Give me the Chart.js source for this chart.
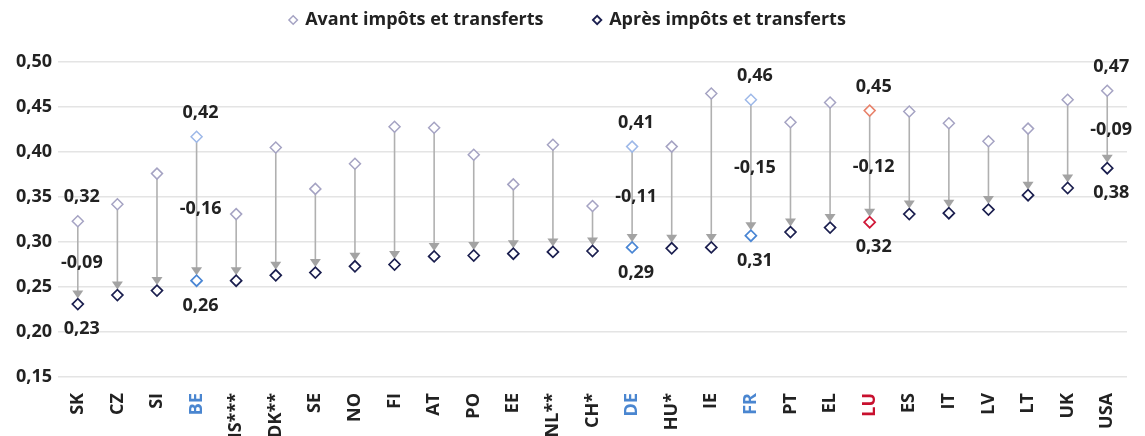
<!DOCTYPE html>
<html lang="fr">
<head>
<meta charset="utf-8">
<script src="https://cdn.jsdelivr.net/npm/chart.js@4/dist/chart.umd.min.js"></script>
<style>
  html, body { margin: 0; padding: 0; background: #ffffff; }
  #wrap { width: 1145px; height: 436px; position: relative; }
</style>
</head>
<body>
<div id="wrap"><canvas id="c"></canvas></div>
<script>
// ---- Data ----
const countries = ['SK','CZ','SI','BE','IS***','DK**','SE','NO','FI','AT','PO','EE','NL**','CH*','DE','HU*','IE','FR','PT','EL','LU','ES','IT','LV','LT','UK','USA'];
const avantImpots = [0.323,0.342,0.376,0.417,0.331,0.405,0.359,0.387,0.428,0.427,0.397,0.364,0.408,0.340,0.406,0.406,0.465,0.458,0.433,0.455,0.446,0.445,0.432,0.412,0.426,0.458,0.468];
const apresImpots = [0.231,0.241,0.246,0.257,0.257,0.263,0.266,0.273,0.275,0.284,0.285,0.287,0.289,0.290,0.294,0.293,0.294,0.307,0.311,0.316,0.322,0.331,0.332,0.336,0.352,0.360,0.382];
const seriesNames = ['Avant impôts et transferts', 'Après impôts et transferts'];
const labelledCountries = ['SK','BE','DE','FR','LU','USA'];
const neighbourCountries = ['BE','DE','FR'];
const homeCountry = 'LU';
const yTicks = { min: 0.15, max: 0.50, step: 0.05 };

// ---- Styles ----
const FONT = { family: '"Open Sans", "Noto Sans", sans-serif', size: 18, weight: 'bold' };
const TEXT = '#222222';
const COL_BEFORE = '#a5a3c3', COL_AFTER = '#1b1f4f';
const COL_NB_BEFORE = '#9db8e8', COL_NB_AFTER = '#4a86d4';
const COL_LU_BEFORE = '#e8826a', COL_LU_AFTER = '#d01838';
const fmt = v => v.toFixed(2).replace('.', ',');

function colorFor(i, normal, nb, lu) {
  const c = countries[i];
  if (c === homeCountry) return lu;
  if (neighbourCountries.includes(c)) return nb;
  return normal;
}

const arrowsPlugin = {
  id: 'arrows',
  beforeDatasetsDraw(chart) {
    const ctx = chart.ctx, xs = chart.scales.x, ys = chart.scales.y;
    ctx.save();
    countries.forEach((c, i) => {
      const x = xs.getPixelForValue(i);
      const y1 = ys.getPixelForValue(avantImpots[i]);
      const y2 = ys.getPixelForValue(apresImpots[i]);
      const tip = y2 - 5.5, head = 8, hw = 5.5;
      ctx.strokeStyle = '#b0b0b0';
      ctx.lineWidth = 1.6;
      ctx.beginPath();
      ctx.moveTo(x, y1 + 5);
      ctx.lineTo(x, tip - head + 1);
      ctx.stroke();
      ctx.fillStyle = '#a3a3a3';
      ctx.beginPath();
      ctx.moveTo(x - hw, tip - head);
      ctx.lineTo(x + hw, tip - head);
      ctx.lineTo(x, tip);
      ctx.closePath();
      ctx.fill();
    });
    ctx.restore();
  }
};

const labelsPlugin = {
  id: 'valueLabels',
  afterDatasetsDraw(chart) {
    const ctx = chart.ctx, xs = chart.scales.x, ys = chart.scales.y;
    ctx.save();
    ctx.font = `${FONT.weight} ${FONT.size}px ${FONT.family}`;
    ctx.fillStyle = TEXT;
    ctx.textAlign = 'center';
    ctx.textBaseline = 'middle';
    labelledCountries.forEach(c => {
      const i = countries.indexOf(c);
      const x = xs.getPixelForValue(i) + 4;
      const y1 = ys.getPixelForValue(avantImpots[i]);
      const y2 = ys.getPixelForValue(apresImpots[i]);
      ctx.fillText(fmt(avantImpots[i]), x, y1 - 24);
      ctx.fillText(fmt(apresImpots[i]), x, y2 + 25);
      ctx.fillText(fmt(apresImpots[i] - avantImpots[i]), x, (y1 + y2) / 2);
    });
    ctx.restore();
  }
};

const legendSpace = {
  id: 'legendSpace',
  beforeInit(chart) {
    const orig = chart.legend.fit;
    chart.legend.fit = function () {
      orig.bind(chart.legend)();
      this.height += 23;
    };
  }
};

new Chart(document.getElementById('c'), {
  type: 'line',
  data: {
    labels: countries,
    datasets: [
      {
        label: seriesNames[0],
        data: avantImpots,
        showLine: false,
        pointStyle: 'rectRot',
        pointRadius: 5.5,
        pointBorderWidth: 1.5,
        pointBackgroundColor: '#ffffff',
        pointBorderColor: countries.map((c, i) => colorFor(i, COL_BEFORE, COL_NB_BEFORE, COL_LU_BEFORE)),
        borderColor: COL_BEFORE,
        backgroundColor: '#ffffff'
      },
      {
        label: seriesNames[1],
        data: apresImpots,
        showLine: false,
        pointStyle: 'rectRot',
        pointRadius: 5.5,
        pointBorderWidth: 1.7,
        pointBackgroundColor: '#ffffff',
        pointBorderColor: countries.map((c, i) => colorFor(i, COL_AFTER, COL_NB_AFTER, COL_LU_AFTER)),
        borderColor: COL_AFTER,
        backgroundColor: '#ffffff'
      }
    ]
  },
  options: {
    responsive: true,
    maintainAspectRatio: false,
    animation: false,
    events: [],
    layout: { padding: { left: 0, right: 9, top: 0, bottom: 0 } },
    plugins: {
      tooltip: { enabled: false },
      legend: {
        display: true,
        position: 'top',
        align: 'center',
        labels: {
          usePointStyle: true,
          boxHeight: 6,
          boxWidth: 6,
          padding: 11,
          color: TEXT,
          font: FONT,
          generateLabels(chart) {
            const ds = chart.data.datasets;
            return [
              { text: ds[0].label, pointStyle: 'rectRot', strokeStyle: COL_BEFORE, fillStyle: '#ffffff', lineWidth: 1.5, fontColor: TEXT, datasetIndex: 0 },
              { text: '\u2002 ', pointStyle: 'rectRot', strokeStyle: 'rgba(0,0,0,0)', fillStyle: 'rgba(0,0,0,0)', lineWidth: 0, fontColor: TEXT },
              { text: ds[1].label, pointStyle: 'rectRot', strokeStyle: COL_AFTER, fillStyle: '#ffffff', lineWidth: 1.8, fontColor: TEXT, datasetIndex: 1 }
            ];
          }
        }
      }
    },
    scales: {
      x: {
        offset: true,
        grid: { display: false, drawTicks: false },
        border: { display: false },
        ticks: {
          autoSkip: false,
          minRotation: 90,
          maxRotation: 90,
          padding: 16,
          font: FONT,
          color: ctx => colorFor(ctx.index, TEXT, '#4a86d0', '#c8102e')
        },
        afterFit(scale) { scale.height = 59; }
      },
      y: {
        min: yTicks.min,
        max: yTicks.max,
        grid: { color: '#e4e4e4', lineWidth: 1.6, drawTicks: false },
        border: { display: false },
        ticks: {
          stepSize: yTicks.step,
          padding: 6,
          font: FONT,
          color: TEXT,
          callback: v => fmt(v)
        },
        afterFit(scale) { scale.width = 58; }
      }
    }
  },
  plugins: [legendSpace, arrowsPlugin, labelsPlugin]
});
</script>
</body>
</html>
